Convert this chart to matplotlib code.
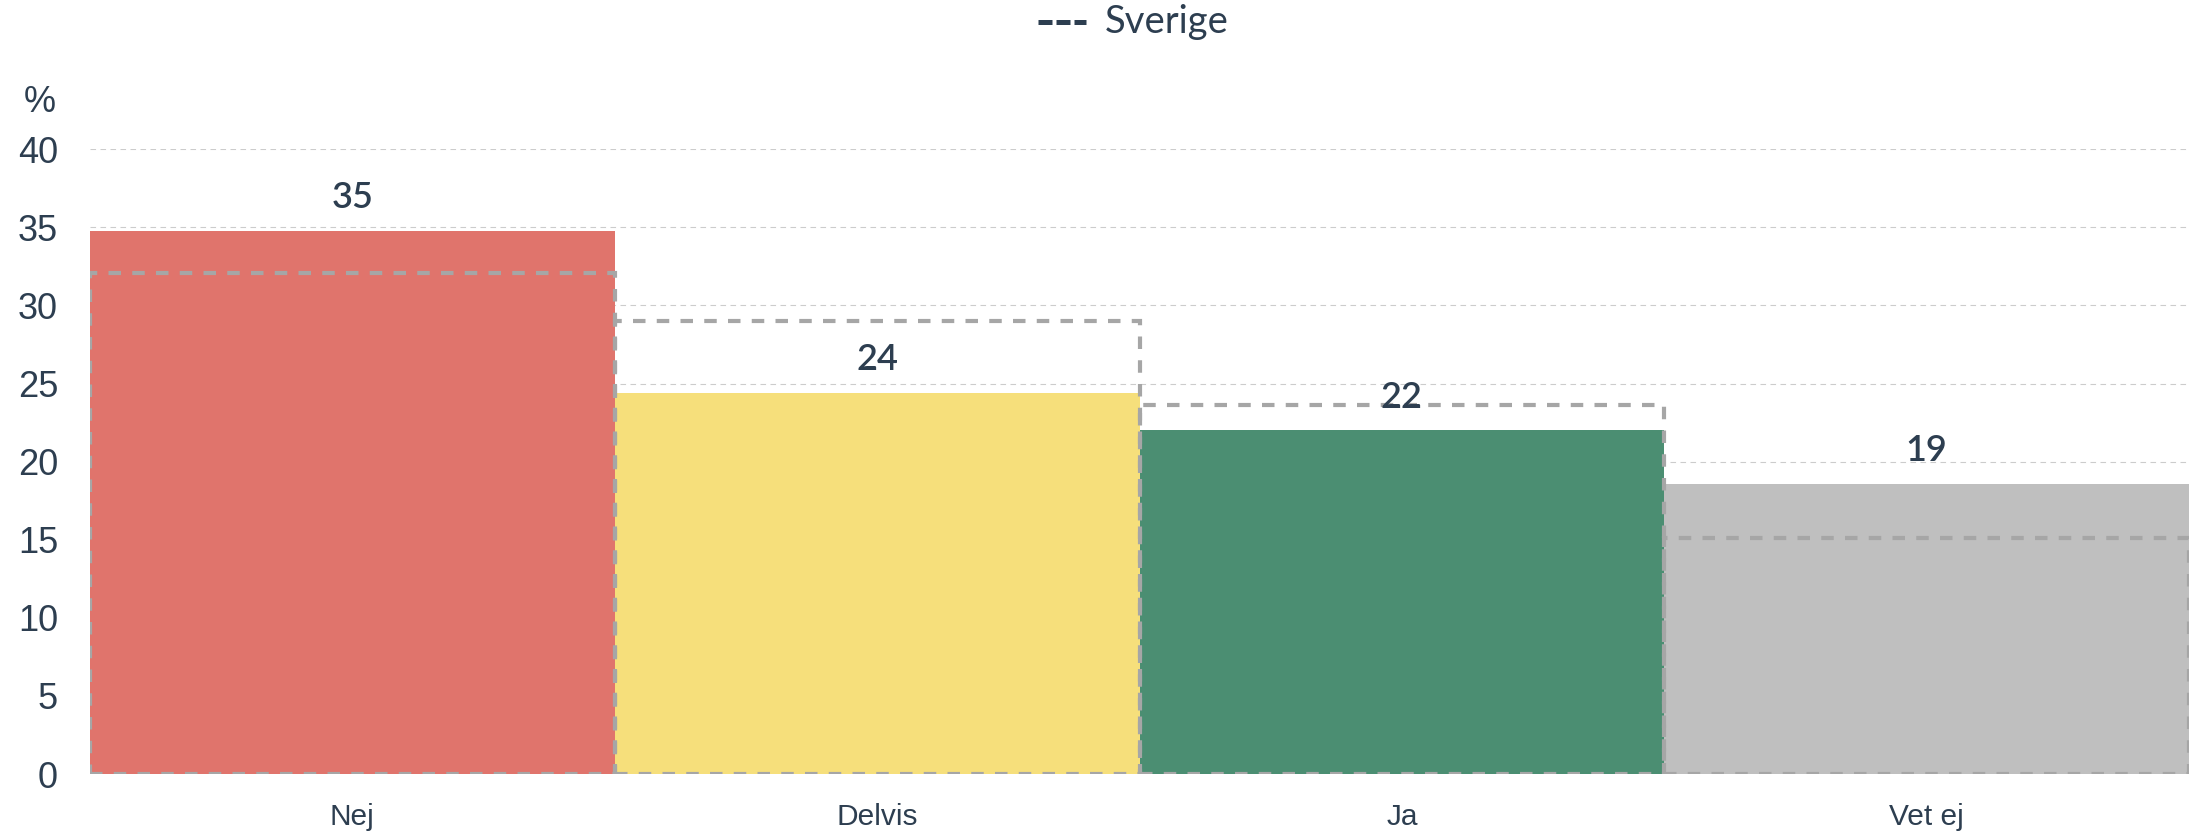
import matplotlib
matplotlib.use("Agg")
import matplotlib.pyplot as plt
from matplotlib.lines import Line2D

categories = ["Nej", "Delvis", "Ja", "Vet ej"]
values = [34.8, 24.4, 22.0, 18.6]
labels = ["35", "24", "22", "19"]
sverige = [32.1, 29.0, 23.6, 15.1]
colors = ["#e0746c", "#f6df7b", "#4b8e72", "#bfbfbf"]
yticks = [0, 5, 10, 15, 20, 25, 30, 35, 40]

TXT = "#2d3e50"
W, H = 2194, 832
fig = plt.figure(figsize=(W / 100, H / 100), dpi=100)
ax = fig.add_axes([90 / W, 1 - 774 / H, (2189 - 90) / W, (774 - 149.3) / H])

x = list(range(len(categories)))
ax.bar(x, values, width=1.0, color=colors, zorder=2)
ax.bar(x, sverige, width=1.0, fill=False, edgecolor="#a6a6a6",
       linewidth=3.0, linestyle=(0, (3.0, 2.7)), zorder=3)

for xi, v, lab in zip(x, values, labels):
    ax.annotate(lab, (xi, v), xytext=(0, 12), textcoords="offset points",
                ha="center", va="bottom", fontsize=26, color=TXT,
                family="Lato", fontweight="semibold", zorder=5,
                annotation_clip=False)

ax.set_xlim(-0.5, len(categories) - 0.5)
ax.set_ylim(0, 40)
ax.set_yticks(yticks)
ax.set_yticklabels([str(t) for t in yticks], fontsize=26, color=TXT,
                   family="Liberation Sans")
ax.set_xticks(x)
ax.set_xticklabels(categories, fontsize=21.5, color=TXT, family="Liberation Sans")
ax.tick_params(axis="y", length=0, pad=23)
ax.tick_params(axis="x", length=0, pad=21)

for t in yticks[1:]:
    ax.axhline(t, color="#cccccc", linewidth=0.8, linestyle=(0, (5, 4)), zorder=1)
ax.axhline(0, color="#d8dde6", linewidth=1.2, zorder=1)
for s in ax.spines.values():
    s.set_visible(False)

fig.text(40 / W, 1 - 102 / H, "%", fontsize=26, color=TXT, family="Liberation Sans",
         ha="center", va="center")

leg = Line2D([1038 / W, 1086 / W], [1 - 21.5 / H, 1 - 21.5 / H],
             color=TXT, linewidth=3.6, linestyle=(0, (2.8, 0.8)),
             transform=fig.transFigure)
leg.set_dash_capstyle("butt")
fig.add_artist(leg)
fig.text(1105 / W, 1 - 21.5 / H, "Sverige", fontsize=27.5, color=TXT, family="Lato",
         ha="left", va="center")

fig.savefig("out.png", dpi=100)
